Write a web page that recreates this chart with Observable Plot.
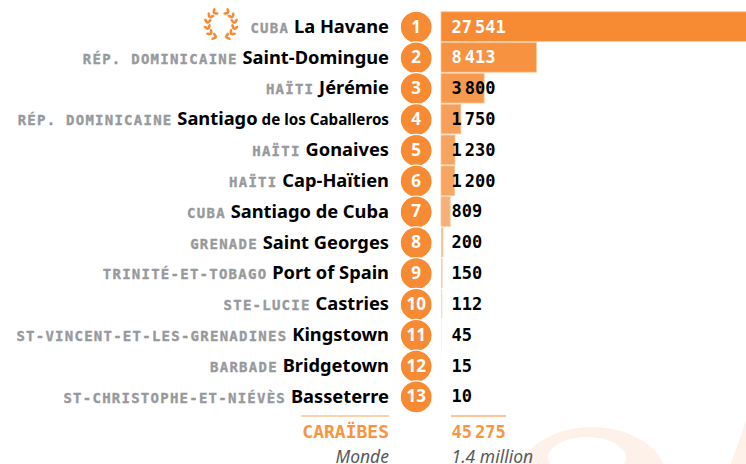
<!DOCTYPE html>
<html><head><meta charset="utf-8">
<script src="https://cdn.jsdelivr.net/npm/d3@7"></script>
<script src="https://cdn.jsdelivr.net/npm/@observablehq/plot@0.6"></script>
<style>
html,body{margin:0;padding:0;background:#fff;overflow:hidden}
svg{display:block}
.country{font-family:"DejaVu Sans Mono";font-weight:700;font-size:14px;letter-spacing:1.25px;fill:#97999c;stroke:#97999c;stroke-width:.35px}
.gap{font-family:"DejaVu Sans Mono";font-size:8px}
.city{font-family:"Noto Sans";font-weight:700;font-size:18.3px;fill:#000}
.small{font-family:"Noto Sans";font-weight:700;font-size:15.2px;fill:#000}
</style></head><body>
<script>
const ranks = [1,2,3,4,5,6,7,8,9,10,11,12,13];
const countries = ["CUBA","RÉP. DOMINICAINE","HAÏTI","RÉP. DOMINICAINE","HAÏTI","HAÏTI","CUBA","GRENADE","TRINITÉ-ET-TOBAGO","STE-LUCIE","ST-VINCENT-ET-LES-GRENADINES","BARBADE","ST-CHRISTOPHE-ET-NIÉVÈS"];
const cities = ["La Havane","Saint-Domingue","Jérémie","Santiago","Gonaives","Cap-Haïtien","Santiago de Cuba","Saint Georges","Port of Spain","Castries","Kingstown","Bridgetown","Basseterre"];
const citySuffixes = ["","","","de los Caballeros","","","","","","","","",""];
const values = [27541,8413,3800,1750,1230,1200,809,200,150,112,45,15,10];
const barColors = ["#f78b33","#f79240","#f69a4f","#f6a059","#f6a560","#f6a661","#f6b07a","#f8c49b","#f9d0b0","#fad8be","#fbe0cd","#fce8da","#fdeee5"];
const totalLabel = "CARAÏBES", totalValue = "45 275", worldLabel = "Monde", worldValue = "1.4 million";
const orange = "#f78b33";

const rows = ranks.map((r,i)=>({rank:r,country:countries[i],city:cities[i],suffix:citySuffixes[i],value:values[i]}));
const fmt = v => String(v).replace(/\B(?=(\d{3})+$)/g," ");
const fixedText = (label,options) => Plot.text([label],{text:d=>d,frameAnchor:"top-left",lineAnchor:"middle",...options});

function decorations(){
  const g = d3.create("svg:g");
  const cx=221, cy=24.5, R=13.5;
  [-1,1].forEach(s=>{
    [35,60,85,110,135,160].forEach(deg=>{
      const a=deg*Math.PI/180;
      const px=cx+s*R*Math.sin(a), py=cy-R*Math.cos(a)*1.02;
      const tang=Math.atan2(-Math.sin(a),-s*Math.cos(a))*180/Math.PI;
      [-38,38].forEach(off=>{
        const rot=tang+off, r=rot*Math.PI/180;
        const lx=px+Math.cos(r)*2.6, ly=py+Math.sin(r)*2.6;
        g.append("ellipse").attr("cx",lx).attr("cy",ly)
          .attr("rx",2.9).attr("ry",1.4).attr("fill",orange)
          .attr("transform",`rotate(${rot} ${lx} ${ly})`);
      });
    });
  });
  g.append("line").attr("x1",301).attr("x2",389).attr("y1",416).attr("y2",416).attr("stroke","#f9a35f").attr("stroke-width",1);
  g.append("line").attr("x1",451).attr("x2",506).attr("y1",416).attr("y2",416).attr("stroke",orange).attr("stroke-width",1);
  return g.node();
}
function watermark(){
  const g = d3.create("svg:g").attr("fill","#fdf1e9");
  g.append("path").attr("fill-rule","evenodd")
    .attr("d","M517 480a75 53 0 1 0 150 0a75 53 0 1 0 -150 0ZM548 458a39 21 0 1 0 78 0a39 21 0 1 0 -78 0Z");
  g.append("path").attr("d","M731 464L746 420L746 464Z");
  return g.node();
}

const plot = Plot.plot({
  width:746,height:464,margin:0,
  style:{background:"transparent",overflow:"hidden"},
  x:{type:"linear",domain:[0,27541],range:[441,753.6],axis:null},
  y:{type:"band",domain:ranks,range:[10.54,412.46],padding:0.04,round:false,axis:null},
  color:{type:"ordinal",domain:ranks,range:barColors},
  marks:[
    watermark,
    Plot.barX(rows,{x:"value",y:"rank",fill:"rank",stroke:d=>d.value>500?"#fbc69a":"none",strokeWidth:0.8}),
    Plot.text(rows,{y:"rank",text:d=>`${d.country}|${d.city}|${d.suffix}`,frameAnchor:"left",dx:388.5,textAnchor:"end",fontSize:18,className:"labels"}),
    Plot.dot(rows,{y:"rank",frameAnchor:"left",dx:415.7,r:16,fill:orange,stroke:"#fff",strokeWidth:1.2}),
    Plot.text(rows,{y:"rank",text:"rank",frameAnchor:"left",dx:415.7,textAnchor:"middle",fill:"#fff",fontFamily:"Noto Sans",fontWeight:700,fontSize:17}),
    Plot.text(rows,{y:"rank",text:d=>fmt(d.value),frameAnchor:"left",dx:451,textAnchor:"start",fill:d=>d.rank<3?"#fff":"#000",fontFamily:"DejaVu Sans Mono",fontWeight:700,fontSize:17,className:"nums"}),
    decorations,
    fixedText(totalLabel,{dx:388.5,dy:431.5,textAnchor:"end",fill:"#f9953f",fontFamily:"DejaVu Sans Mono",fontWeight:700,fontSize:18}),
    fixedText(totalValue,{dx:451,dy:432,textAnchor:"start",fill:"#f9953f",fontFamily:"DejaVu Sans Mono",fontWeight:700,fontSize:17,className:"nums"}),
    fixedText(worldLabel,{dx:388.5,dy:457,textAnchor:"end",fill:"#58595b",fontFamily:"Noto Sans",fontStyle:"italic",fontSize:17.5}),
    fixedText(worldValue,{dx:451,dy:457,textAnchor:"start",fill:"#58595b",fontFamily:"Noto Sans",fontStyle:"italic",fontSize:17.5,letterSpacing:"1.6px"})
  ]
});
const root = d3.select(plot);
root.selectAll(".labels text").each(function(){
  const [country,city,suffix]=this.textContent.split("|");
  const t=d3.select(this).text("");
  t.append("tspan").attr("class","country").text(country);
  t.append("tspan").attr("class","gap").text(" ");
  t.append("tspan").attr("class","city").text(city);
  if(suffix) t.append("tspan").attr("class","small").text(" "+suffix);
});
root.selectAll(".nums text").each(function(){
  const parts=this.textContent.split(" ");
  if(parts.length<2) return;
  const t=d3.select(this).text("");
  t.append("tspan").text(parts[0]);
  t.append("tspan").style("font-size","5px").text(" ");
  t.append("tspan").text(parts[1]);
});
document.body.appendChild(plot);
</script>
</body></html>
